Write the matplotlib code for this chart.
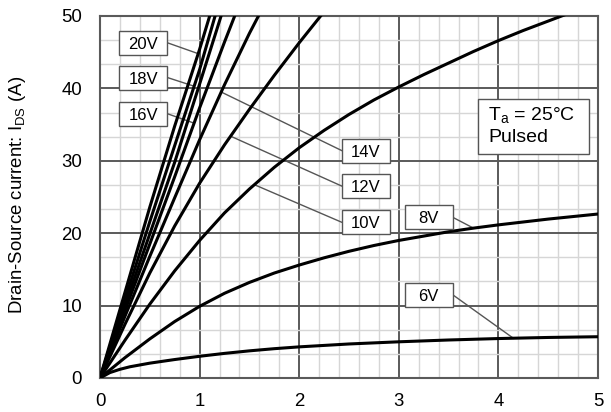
import matplotlib.pyplot as plt
import numpy as np
from matplotlib.patches import Rectangle

plt.rcParams['font.family'] = ['Liberation Sans', 'DejaVu Sans']
plt.rcParams['mathtext.fontset'] = 'custom'
plt.rcParams['mathtext.rm'] = 'Liberation Sans'

# Output characteristics: drain current vs drain-source voltage per gate voltage
vds_6v = [0, 0.1, 0.2, 0.3, 0.4, 0.5, 0.75, 1, 1.25, 1.5, 1.75, 2, 2.5, 3, 3.5, 4, 4.5, 5]
ids_6v = [0, 0.75, 1.2, 1.55, 1.8, 2.05, 2.55, 3.0, 3.4, 3.75, 4.05, 4.3, 4.7, 5.0, 5.25, 5.45, 5.6, 5.7]

vds_8v = [0, 0.25, 0.5, 0.75, 1, 1.25, 1.5, 1.75, 2, 2.25, 2.5, 2.75, 3, 3.25, 3.5, 3.75, 4, 4.25, 4.5, 4.75, 5]
ids_8v = [0, 2.8, 5.4, 7.8, 9.9, 11.7, 13.2, 14.5, 15.6, 16.6, 17.5, 18.3, 19.0, 19.6, 20.2, 20.7,
          21.15, 21.55, 21.95, 22.3, 22.65]

vds_10v = [0, 0.25, 0.5, 0.75, 1, 1.25, 1.5, 1.75, 2, 2.25, 2.5, 2.75, 3, 3.25, 3.5, 3.75, 4, 4.25, 4.5, 4.75]
ids_10v = [0, 5.2, 10.2, 14.8, 19.0, 22.8, 26.1, 29.1, 31.8, 34.2, 36.4, 38.4, 40.2, 41.9, 43.5, 45.1,
           46.6, 48.0, 49.3, 50.6]

vds_12v = [0, 0.25, 0.5, 0.75, 1, 1.25, 1.5, 1.75, 2, 2.25]
ids_12v = [0, 7.4, 14.5, 21.0, 26.9, 32.2, 37.1, 41.8, 46.3, 50.6]

vds_14v = [0, 0.25, 0.5, 0.75, 1, 1.25, 1.5, 1.75]
ids_14v = [0, 8.5, 16.8, 24.9, 32.9, 40.5, 47.6, 54.2]

vds_16v = [0, 0.25, 0.5, 0.75, 1, 1.25, 1.5]
ids_16v = [0, 9.3, 18.5, 27.8, 37.3, 46.4, 55.2]

vds_17v = [0, 0.25, 0.5, 0.75, 1, 1.25]
ids_17v = [0, 10.0, 19.9, 29.8, 40.6, 51.5]

vds_18v = [0, 0.25, 0.5, 0.75, 1, 1.25]
ids_18v = [0, 10.8, 21.6, 32.1, 42.6, 54.5]

vds_20v = [0, 0.25, 0.5, 0.75, 1, 1.2]
ids_20v = [0, 11.8, 23.6, 34.8, 45.4, 54.5]

curves = [
    (vds_6v, ids_6v), (vds_8v, ids_8v), (vds_10v, ids_10v), (vds_12v, ids_12v),
    (vds_14v, ids_14v), (vds_16v, ids_16v), (vds_17v, ids_17v),
    (vds_18v, ids_18v), (vds_20v, ids_20v),
]

# label text, label box centre, which curve, and where the leader meets it
# ('x', v) -> at Vds = v ; ('y', v) -> at Ids = v
labels = [
    ('20V', (0.436, 46.3), 8, ('y', 44.8), 'right'),
    ('18V', (0.436, 41.5), 7, ('y', 40.3), 'right'),
    ('16V', (0.436, 36.5), 5, ('y', 35.2), 'right'),
    ('14V', (2.67, 31.4), 4, ('y', 39.5), 'left'),
    ('12V', (2.67, 26.5), 3, ('y', 33.4), 'left'),
    ('10V', (2.67, 21.5), 2, ('y', 26.7), 'left'),
    ('8V', (3.30, 22.2), 1, ('x', 3.75), 'right'),
    ('6V', (3.30, 11.5), 0, ('x', 4.15), 'right'),
]
box_w, box_h = 0.482, 3.31

fig = plt.figure(figsize=(6.11, 4.12), dpi=100)
ax = fig.add_axes([100 / 611, 34 / 412, 498 / 611, 362 / 412])

ax.set_xlim(0, 5)
ax.set_ylim(0, 50)
ax.set_xticks(np.arange(0, 6, 1))
ax.set_xticks(np.arange(0, 5.01, 0.2), minor=True)
ax.set_yticks(np.arange(0, 51, 10))
ax.set_yticks(np.linspace(0, 50, 16), minor=True)
ax.tick_params(which='both', length=0, labelsize=13.4)
ax.tick_params(axis='y', pad=13)
ax.tick_params(axis='x', pad=10.5)

ax.set_axisbelow(True)
ax.grid(which='minor', color='#d6d6d6', lw=1.0)
ax.grid(which='major', color='#5a5a5a', lw=1.4)
for sp in ax.spines.values():
    sp.set_color('#5a5a5a')
    sp.set_linewidth(1.5)

for vds, ids in curves:
    ax.plot(vds, ids, color='black', lw=2.2, zorder=3, solid_joinstyle='round')

for text, (cx, cy), idx, (kind, val), side in labels:
    vds, ids = curves[idx]
    if kind == 'x':
        tx, ty = val, np.interp(val, vds, ids)
    else:
        tx, ty = np.interp(val, ids, vds), val
    sx = cx + box_w / 2 if side == 'right' else cx - box_w / 2
    ax.plot([sx, tx], [cy, ty], color='#555555', lw=1.0, zorder=2)
    ax.add_patch(Rectangle((cx - box_w / 2, cy - box_h / 2), box_w, box_h,
                           facecolor='white', edgecolor='#555555', lw=1.0, zorder=4))
    ax.text(cx, cy, text, ha='center', va='center_baseline', fontsize=12, zorder=5)

# condition box
ax.add_patch(Rectangle((3.80, 31.0), 1.105, 7.6, facecolor='white',
                       edgecolor='#555555', lw=1.0, zorder=4))
ax.text(3.90, 35.55, r'T$_{\mathrm{a}}$ = 25°C', fontsize=14, va='baseline', zorder=5)
ax.text(3.90, 32.65, 'Pulsed', fontsize=14, va='baseline', zorder=5)

fig.text(18 / 611, 1 - 195 / 412, r'Drain-Source current: I$_{\mathrm{DS}}$ (A)',
         rotation=90, ha='center', va='center', fontsize=13.4)

fig.savefig('out.png', dpi=100)
